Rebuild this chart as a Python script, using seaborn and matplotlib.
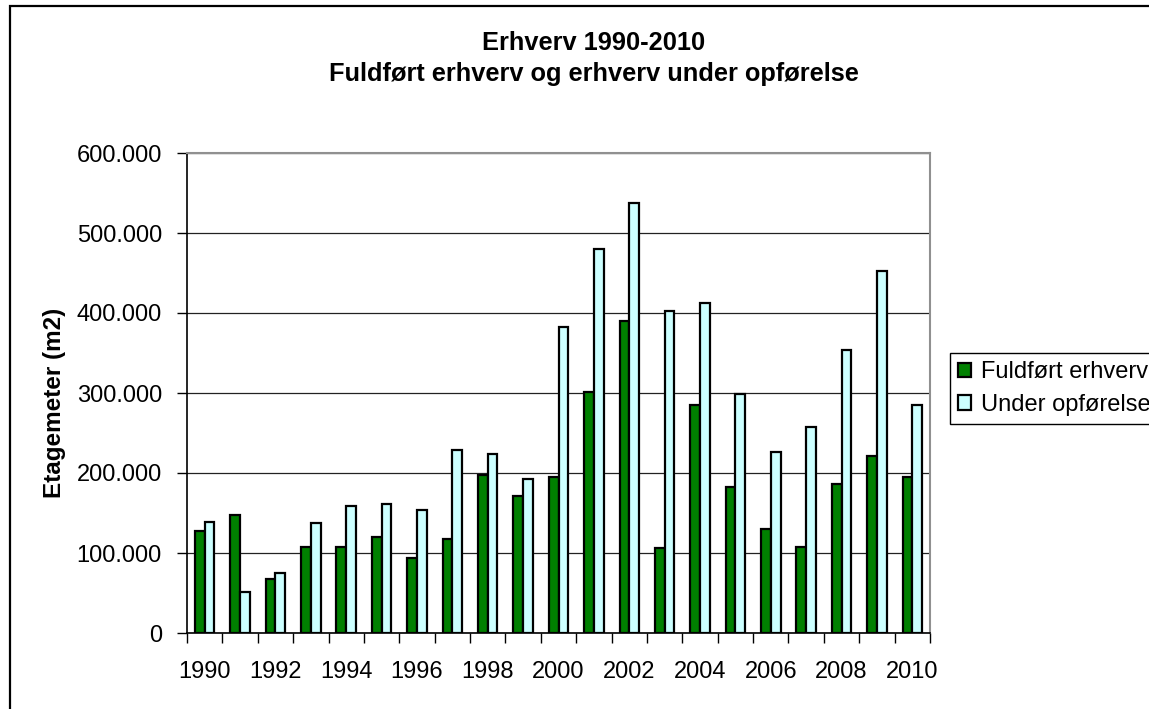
import pandas as pd
import matplotlib
matplotlib.use('Agg')
import matplotlib.pyplot as plt
import matplotlib.ticker as mticker
from matplotlib.patches import Rectangle
import seaborn as sns

# Data
years = [str(y) for y in range(1990, 2011)]
fuldfort = [127000, 147000, 67000, 108000, 108000, 120000, 94000, 118000, 198000, 171000,
            195000, 301000, 390000, 106000, 285000, 183000, 130000, 108000, 186000, 221000, 195000]
under_opforelse = [139000, 51000, 75000, 137000, 159000, 161000, 154000, 229000, 224000, 193000,
                   382000, 480000, 537000, 402000, 412000, 299000, 226000, 258000, 354000, 453000, 285000]
series_names = ['Fuldført erhverv', 'Under opførelse']
colors = ['#008000', '#CCFFFF']

df = pd.DataFrame({'Aar': years, series_names[0]: fuldfort, series_names[1]: under_opforelse})
long_df = df.melt(id_vars='Aar', var_name='Serie', value_name='Etagemeter')

sns.set_style('white')
plt.rcParams['font.family'] = ['Liberation Sans', 'DejaVu Sans']
plt.rcParams.update({'text.color': 'black', 'axes.labelcolor': 'black',
                     'xtick.color': 'black', 'ytick.color': 'black'})

W, H = 1149, 709
fig = plt.figure(figsize=(W / 100, H / 100), dpi=100)
ax = fig.add_axes([187 / W, 1 - 633 / H, (930 - 187) / W, (633 - 153) / H])

sns.barplot(data=long_df, x='Aar', y='Etagemeter', hue='Serie', order=years,
            hue_order=series_names, palette=colors, width=0.55, saturation=1,
            edgecolor='black', linewidth=1.6, ax=ax)

# Axes styling (Excel look)
ax.set_ylim(0, 600000)
ax.set_xlim(-0.5, len(years) - 0.5)
ax.yaxis.set_major_locator(mticker.MultipleLocator(100000))
ax.yaxis.set_major_formatter(mticker.FuncFormatter(lambda v, p: f'{int(v):,}'.replace(',', '.')))
ax.grid(axis='y', color='#222222', linewidth=0.9)
ax.set_axisbelow(True)
for side in ['left', 'bottom']:
    ax.spines[side].set_color('black')
    ax.spines[side].set_linewidth(1.2)
for side in ['top', 'right']:
    ax.spines[side].set_color('#909090')
    ax.spines[side].set_linewidth(1.5)

ax.set_xticks(range(0, len(years), 2))
ax.set_xticklabels(years[::2])
ax.set_xticks([i - 0.5 for i in range(len(years) + 1)], minor=True)
ax.tick_params(axis='x', which='major', length=0, pad=20, labelsize=17)
ax.tick_params(axis='x', which='minor', length=7, width=1, color='black', direction='out', bottom=True)
ax.tick_params(axis='y', which='major', length=7, width=1, color='black', direction='out',
               left=True, pad=11, labelsize=17)

ax.set_xlabel('')
ax.set_ylabel('Etagemeter (m2)', fontsize=17.5, fontweight='bold')
ax.yaxis.set_label_coords(-0.163, 0.479)

# Titles
fig.text(594 / W, 1 - 49.5 / H, 'Erhverv 1990-2010', ha='center', va='baseline',
         fontsize=18.3, fontweight='bold')
fig.text(594 / W, 1 - 80.5 / H, 'Fuldført erhverv og erhverv under opførelse', ha='center',
         va='baseline', fontsize=18.3, fontweight='bold')

# Legend (cut off at the right edge like the original)
handles, labels = ax.get_legend_handles_labels()
ax.get_legend().remove()
leg = ax.legend(handles, labels, loc='upper left', bbox_to_anchor=(950 / W, 1 - 353 / H),
                bbox_transform=fig.transFigure, fontsize=17, frameon=True, fancybox=False,
                framealpha=1, edgecolor='black', handlelength=0.55, handleheight=0.55,
                handletextpad=0.4, labelspacing=0.45, borderpad=0.35, borderaxespad=0)
leg.get_frame().set_linewidth(1)

# Chart area border
fig.patches.append(Rectangle((10 / W, -0.05), 1.2, 1.05 - 6 / H, transform=fig.transFigure,
                             fill=False, edgecolor='black', linewidth=1.6, clip_on=False))

fig.savefig('out.png', dpi=100)
